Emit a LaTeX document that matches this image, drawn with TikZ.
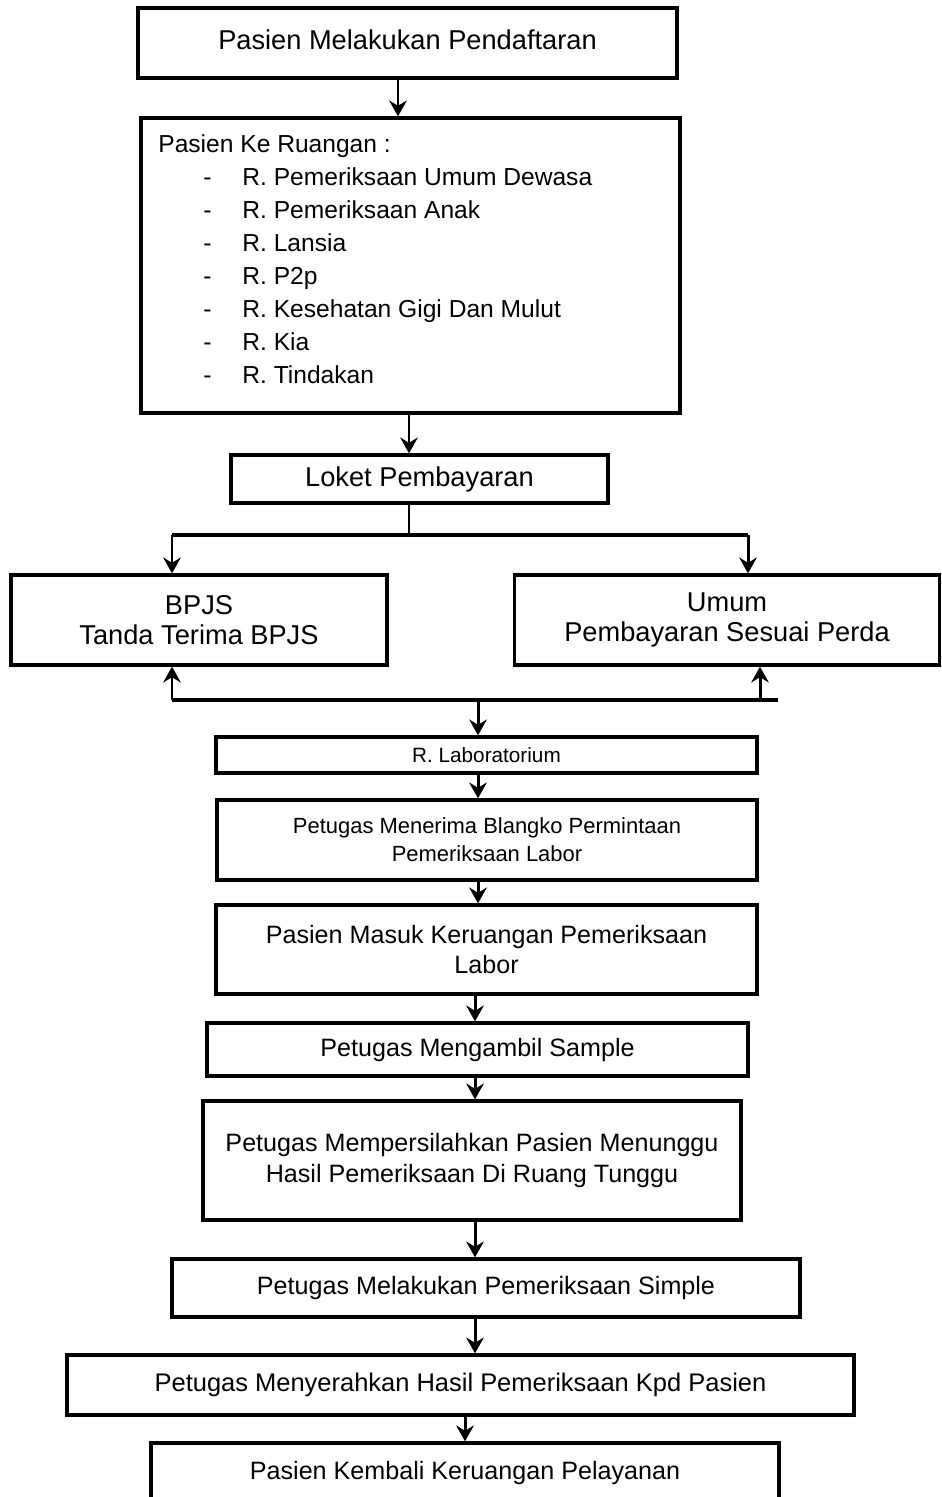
\documentclass[tikz,border=0pt]{standalone}
\usepackage{fontspec}
\setmainfont{Liberation Sans}
\usetikzlibrary{arrows.meta}
\usetikzlibrary{calc}
\tikzset{ % styles du diagramme
    kotak/.style={draw, line width=1.9pt, inner sep=2pt, align=center,
        font=\fontsize{14.3}{17}\selectfont},
    panah/.style={line width=1.7pt, -{Stealth[length=9pt,width=10pt,inset=3pt]}},
    garis/.style={line width=2pt}
}

\begin{document}
\begin{tikzpicture}[x=0.02cm,y=-0.02cm]
    \useasboundingbox (0,0) rectangle (941,1497);
    \clip (0,0) rectangle (941,1497);
    % pendaftaran et ruangan
    \node[kotak, minimum width=10.78cm, minimum height=1.4cm, font=\fontsize{15.5}{18}\selectfont] (daftar) at (407.5,43) {\raisebox{4pt}{Pasien Melakukan Pendaftaran}};
    \node[kotak, minimum width=10.78cm, minimum height=5.9cm] (ruang) at (410.5,265.5) {};
    \node[anchor=north west, align=left, inner sep=0pt, font=\fontsize{14}{18.8}\selectfont] (daftarruang) at (158,134) {Pasien Ke Ruangan :\\
        \hspace*{0.9cm}\makebox[0.78cm][l]{-}R. Pemeriksaan Umum Dewasa\\
        \hspace*{0.9cm}\makebox[0.78cm][l]{-}R. Pemeriksaan Anak\\
        \hspace*{0.9cm}\makebox[0.78cm][l]{-}R. Lansia\\
        \hspace*{0.9cm}\makebox[0.78cm][l]{-}R. P2p\\
        \hspace*{0.9cm}\makebox[0.78cm][l]{-}R. Kesehatan Gigi Dan Mulut\\
        \hspace*{0.9cm}\makebox[0.78cm][l]{-}R. Kia\\
        \hspace*{0.9cm}\makebox[0.78cm][l]{-}R. Tindakan};
    \node[kotak, minimum width=7.54cm, minimum height=0.96cm, font=\fontsize{15.5}{18}\selectfont] (loket) at (419.5,479) {Loket Pembayaran};
    \node[kotak, minimum width=7.52cm, minimum height=1.8cm, font=\fontsize{15.5}{17}\selectfont] (bpjs) at (199,620) {BPJS\\Tanda Terima BPJS};
    \node[kotak, minimum width=8.5cm, minimum height=1.8cm, font=\fontsize{15.5}{17}\selectfont] (umum) at (727,620) {Umum\\Pembayaran Sesuai Perda};
    % laboratorium
    \node[kotak, minimum width=10.82cm, minimum height=0.72cm, font=\fontsize{11.8}{14}\selectfont] (lab) at (486.5,755) {R. Laboratorium};
    \node[kotak, minimum width=10.8cm, minimum height=1.6cm, font=\fontsize{12.5}{15.9}\selectfont] (blangko) at (487,840) {Petugas Menerima Blangko Permintaan\\Pemeriksaan Labor};
    \node[kotak, minimum width=10.82cm, minimum height=1.78cm] (masuk) at (486.5,949.5) {Pasien Masuk Keruangan Pemeriksaan\\Labor};
    \node[kotak, minimum width=10.82cm, minimum height=1.06cm] (sample) at (477.5,1049.5) {Petugas Mengambil Sample};
    \node[kotak, minimum width=10.76cm, minimum height=2.38cm, font=\fontsize{14.3}{17.6}\selectfont] (tunggu) at (472,1160.5) {Petugas Mempersilahkan Pasien Menunggu\\Hasil Pemeriksaan Di Ruang Tunggu};
    \node[kotak, minimum width=12.56cm, minimum height=1.16cm] (simple) at (486,1288) {Petugas Melakukan Pemeriksaan Simple};
    \node[kotak, minimum width=15.74cm, minimum height=1.2cm, font=\fontsize{14.5}{17}\selectfont] (serah) at (460.5,1385) {Petugas Menyerahkan Hasil Pemeriksaan Kpd Pasien};
    \node[kotak, minimum width=12.56cm, minimum height=1.2cm] (kembali) at (465,1473) {Pasien Kembali Keruangan Pelayanan};
    % percabangan
    \coordinate (cabang) at (409,535);
    \coordinate (kiriatas) at (172,535);
    \coordinate (kananatas) at (748,535);
    \coordinate (kiribawah) at (172,700);
    \coordinate (kananbawah) at (778,700);
    \coordinate (naikkanan) at (760,700);
    \coordinate (tengahbawah) at (478,700);
    \draw[panah] (daftar.south -| 398,0) -- (ruang.north -| 398,0);
    \draw[panah] (ruang.south -| 409,0) -- (loket.north -| 409,0);
    \draw[line width=0.9pt] (loket.south -| cabang) -- (cabang);
    \draw[garis] (kiriatas) -- (kananatas);
    \draw[panah] (kiriatas) -- (bpjs.north -| kiriatas);
    \draw[panah] (kananatas) -- (umum.north -| kananatas);
    \draw[garis] (kiribawah) -- (kananbawah);
    \draw[panah] (kiribawah) -- (bpjs.south -| kiribawah);
    \draw[panah] (naikkanan) -- (umum.south -| naikkanan);
    \draw[panah] (tengahbawah) -- (lab.north -| tengahbawah);
    \draw[panah] (lab.south -| 478,0) -- (blangko.north -| 478,0);
    \draw[panah] (blangko.south -| 478,0) -- (masuk.north -| 478,0);
    \draw[panah] (masuk.south -| 475,0) -- (sample.north -| 475,0);
    \draw[panah] (sample.south -| 475,0) -- (tunggu.north -| 475,0);
    \draw[panah] (tunggu.south -| 475,0) -- (simple.north -| 475,0);
    \draw[panah] (simple.south -| 475,0) -- (serah.north -| 475,0);
    \draw[panah] (serah.south -| 465,0) -- (kembali.north -| 465,0);
\end{tikzpicture}
\end{document}
